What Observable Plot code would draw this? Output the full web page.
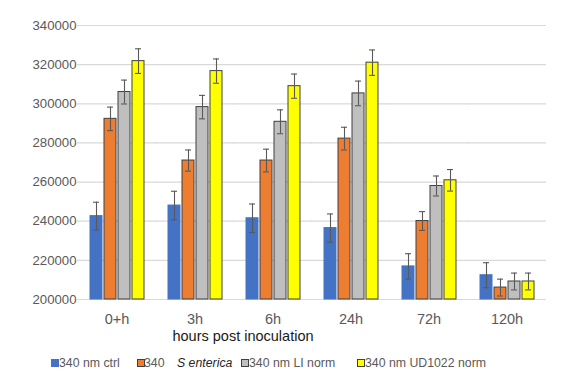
<!DOCTYPE html>
<html><head><meta charset="utf-8">
<script src="https://cdn.jsdelivr.net/npm/d3@7"></script>
<script src="https://cdn.jsdelivr.net/npm/@observablehq/plot@0.6"></script>
<style>
body{margin:0;background:#fff;font-family:"Liberation Sans",Arial,sans-serif;}
#wrap{position:relative;width:579px;height:383px;overflow:hidden;}
#wrap svg{position:absolute;left:0;top:0;}
.xtitle{position:absolute;left:143px;width:200px;top:328px;text-align:center;font-size:14.5px;color:#1a1a1a;line-height:17px;}
.lg{position:absolute;top:356px;font-size:12.3px;color:#595959;line-height:14px;white-space:nowrap;}
.sw{position:absolute;top:359px;width:6px;height:6px;border:1px solid #404040;}
</style></head><body><div id="wrap"></div>
<script>
const times = ["0+h", "3h", "6h", "24h", "72h", "120h"];
const seriesNames = ["340 nm ctrl", "340 S enterica", "340 nm LI norm", "340 nm UD1022 norm"];
const ctrl      = [242600, 248000, 241500, 236500, 216900, 212400];
const ctrlErr   = [7100, 7300, 7300, 7200, 6500, 6400];
const sEnterica = [292300, 271000, 271000, 282200, 240100, 206100];
const sEntErr   = [6000, 5400, 5800, 5800, 4800, 4300];
const liNorm    = [306000, 298300, 290800, 305300, 258000, 209200];
const liErr     = [6100, 6000, 6100, 6300, 5100, 4300];
const udNorm    = [321800, 316700, 309000, 321000, 260900, 209200];
const udErr     = [6300, 6200, 6200, 6500, 5500, 4300];
const yTicks = [200000, 220000, 240000, 260000, 280000, 300000, 320000, 340000];
const colors = ["#4472C4", "#ED7D31", "#BFBFBF", "#FFFF00"];
const strokes = ["#4472C4", "#404040", "#404040", "#404040"];

const vals = [ctrl, sEnterica, liNorm, udNorm];
const errs = [ctrlErr, sEntErr, liErr, udErr];
const data = [];
times.forEach((t, i) => seriesNames.forEach((s, j) => {
  data.push({time: t, series: s, value: vals[j][i], err: errs[j][i], si: j});
}));
const base = yTicks[0];

const chart = Plot.plot({
  width: 579, height: 350,
  marginLeft: 75, marginRight: 31, marginTop: 25, marginBottom: 51,
  style: {fontFamily: '"Liberation Sans", Arial, sans-serif', background: "transparent"},
  fx: {domain: times, paddingInner: 0.3, paddingOuter: 0.15, label: null},
  x: {domain: seriesNames, paddingInner: 0.17, paddingOuter: 0, axis: null},
  y: {domain: [yTicks[0], yTicks[yTicks.length - 1]], label: null},
  color: {domain: seriesNames, range: colors},
  marks: [
    Plot.ruleY(yTicks, {y: d => d, stroke: "#D9D9D9", strokeWidth: 1.2, insetLeft: -12, insetRight: -12}),
    Plot.barY(data, {fx: "time", x: "series", y1: () => base, y2: "value", fill: "series",
      stroke: d => strokes[d.si], strokeWidth: 1}),
    Plot.ruleX(data, {fx: "time", x: "series", y1: d => d.value - d.err, y2: d => d.value + d.err,
      stroke: "#595959", strokeWidth: 1.1}),
    Plot.tickY(data, {fx: "time", x: "series", y: d => d.value - d.err, stroke: "#595959", strokeWidth: 1.1, insetLeft: 3, insetRight: 3}),
    Plot.tickY(data, {fx: "time", x: "series", y: d => d.value + d.err, stroke: "#595959", strokeWidth: 1.1, insetLeft: 3, insetRight: 3}),
    Plot.axisY({ticks: yTicks, tickFormat: d3.format("d"), tickSize: 0, tickPadding: 13, fontSize: 13.2, color: "#595959", label: null}),
    Plot.axisFx({anchor: "bottom", tickSize: 0, tickPadding: 14, fontSize: 14.5, color: "#595959", label: null})
  ]
});
const wrap = document.getElementById("wrap");
wrap.appendChild(chart);

const xt = document.createElement("div");
xt.className = "xtitle";
xt.textContent = "hours post inoculation";
wrap.appendChild(xt);

const legendItems = [
  {sw: 51, tx: 59, parts: [["340 nm ctrl", false]]},
  {sw: 137, tx: 144, parts: [["340", false], ["S enterica", true, 177]]},
  {sw: 241, tx: 249, parts: [["340 nm LI norm", false]]},
  {sw: 357, tx: 365, parts: [["340 nm UD1022 norm", false]]}
];
legendItems.forEach((it, i) => {
  const s = document.createElement("div");
  s.className = "sw";
  s.style.left = it.sw + "px";
  s.style.background = colors[i];
  s.style.borderColor = strokes[i];
  wrap.appendChild(s);
  it.parts.forEach(p => {
    const t = document.createElement("div");
    t.className = "lg";
    t.style.left = (p[2] !== undefined ? p[2] : it.tx) + "px";
    t.textContent = p[0];
    if (p[1]) { t.style.fontStyle = "italic"; t.style.color = "#262626"; }
    wrap.appendChild(t);
  });
});
</script></body></html>
